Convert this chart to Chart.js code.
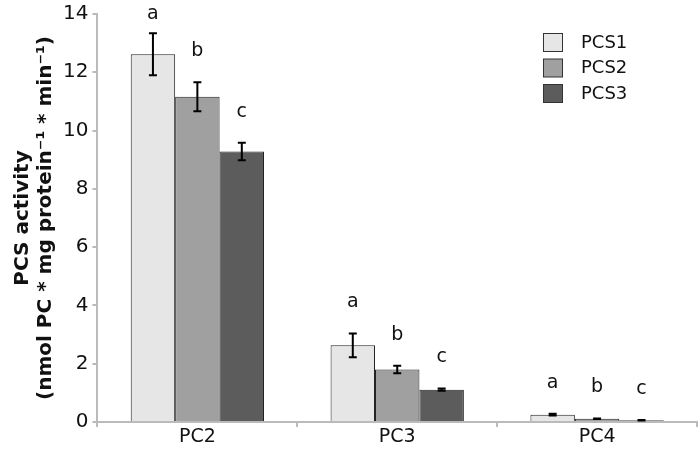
<!DOCTYPE html>
<html><head><meta charset="utf-8">
<script src="https://cdn.jsdelivr.net/npm/chart.js@4/dist/chart.umd.min.js"></script>
<style>html,body{margin:0;padding:0;background:#fff}#wrap{width:700px;height:450px}</style>
</head><body><div id="wrap"><canvas id="c" width="700" height="450"></canvas></div>
<script>
const categories = ['PC2', 'PC3', 'PC4'];
const seriesNames = ['PCS1', 'PCS2', 'PCS3'];
const pcs1 = [12.62, 2.63, 0.25];
const pcs2 = [11.16, 1.80, 0.11];
const pcs3 = [9.28, 1.11, 0.06];
const err1 = [0.72, 0.41, 0.03];
const err2 = [0.50, 0.13, 0.01];
const err3 = [0.30, 0.04, 0.01];
const letters1 = ['a', 'a', 'a'];
const letters2 = ['b', 'b', 'b'];
const letters3 = ['c', 'c', 'c'];
const yTicks = [0, 2, 4, 6, 8, 10, 12, 14];

const fills = ['#e6e6e6', '#a0a0a0', '#5c5c5c'];
const FONT = 'DejaVu Sans';

const errPlugin = {
  id: 'errs',
  afterDatasetsDraw(chart) {
    const ctx = chart.ctx;
    const y = chart.scales.y;
    chart.data.datasets.forEach((ds, di) => {
      const meta = chart.getDatasetMeta(di);
      meta.data.forEach((bar, i) => {
        const v = ds.data[i], e = ds.errs[i];
        const yt = y.getPixelForValue(v + e), yb = y.getPixelForValue(v - e);
        ctx.save();
        ctx.strokeStyle = '#000'; ctx.lineWidth = 2;
        ctx.beginPath();
        ctx.moveTo(bar.x, yt); ctx.lineTo(bar.x, yb);
        ctx.moveTo(bar.x - 4, yt); ctx.lineTo(bar.x + 4, yt);
        ctx.moveTo(bar.x - 4, yb); ctx.lineTo(bar.x + 4, yb);
        ctx.stroke();
        ctx.fillStyle = '#111';
        ctx.font = '19px "' + FONT + '"';
        ctx.textAlign = 'center'; ctx.textBaseline = 'middle';
        const ly = Math.max(yt - 31, y.top);
        ctx.fillText(ds.letters[i], bar.x, ly);
        ctx.restore();
      });
    });
    // legend
    ctx.save();
    chart.data.datasets.forEach((ds, di) => {
      const yy = 33 + di * 25.5;
      ctx.fillStyle = ds.backgroundColor;
      ctx.strokeStyle = '#333'; ctx.lineWidth = 1;
      ctx.fillRect(543.5, yy + 0.5, 19, 18);
      ctx.strokeRect(543.5, yy + 0.5, 19, 18);
      ctx.fillStyle = '#111';
      ctx.font = '18px "' + FONT + '"';
      ctx.textAlign = 'left'; ctx.textBaseline = 'middle';
      ctx.fillText(ds.label, 581, yy + 10);
    });
    ctx.restore();
  }
};

const series = [pcs1, pcs2, pcs3];
const errs = [err1, err2, err3];
const letters = [letters1, letters2, letters3];

new Chart(document.getElementById('c'), {
  type: 'bar',
  data: {
    labels: categories,
    datasets: seriesNames.map((n, i) => ({
      label: n, data: series[i], errs: errs[i], letters: letters[i],
      backgroundColor: fills[i], borderColor: '#222', borderWidth: 1,
      categoryPercentage: 0.667, barPercentage: 1.0
    }))
  },
  options: {
    responsive: false, animation: false,
    layout: { padding: { top: 0, right: 3, left: 11, bottom: 2 } },
    plugins: { legend: { display: false }, tooltip: { enabled: false } },
    scales: {
      x: {
        grid: { offset: true, drawOnChartArea: false, color: '#bbb', tickLength: 5, lineWidth: 2 },
        border: { color: '#bbb', width: 2 },
        ticks: { color: '#111', font: { family: FONT, size: 19, lineHeight: 1.0 }, padding: 1 }
      },
      y: {
        min: 0, max: 14,
        afterBuildTicks: (s) => { s.ticks = yTicks.map(v => ({ value: v })); },
        grid: { drawOnChartArea: false, color: '#bbb', tickLength: 5, lineWidth: 2 },
        border: { color: '#bbb', width: 2 },
        ticks: { color: '#111', font: { family: FONT, size: 20, lineHeight: 1.0 }, padding: 4 },
        title: {
          display: true,
          text: ['PCS activity', '(nmol PC * mg protein\u207B\u00B9 * min\u207B\u00B9)'],
          color: '#111', font: { family: FONT, size: 20, weight: 'bold', lineHeight: 1.15 }, padding: { top: 0, bottom: 2 }
        }
      }
    }
  },
  plugins: [errPlugin]
});
</script></body></html>
